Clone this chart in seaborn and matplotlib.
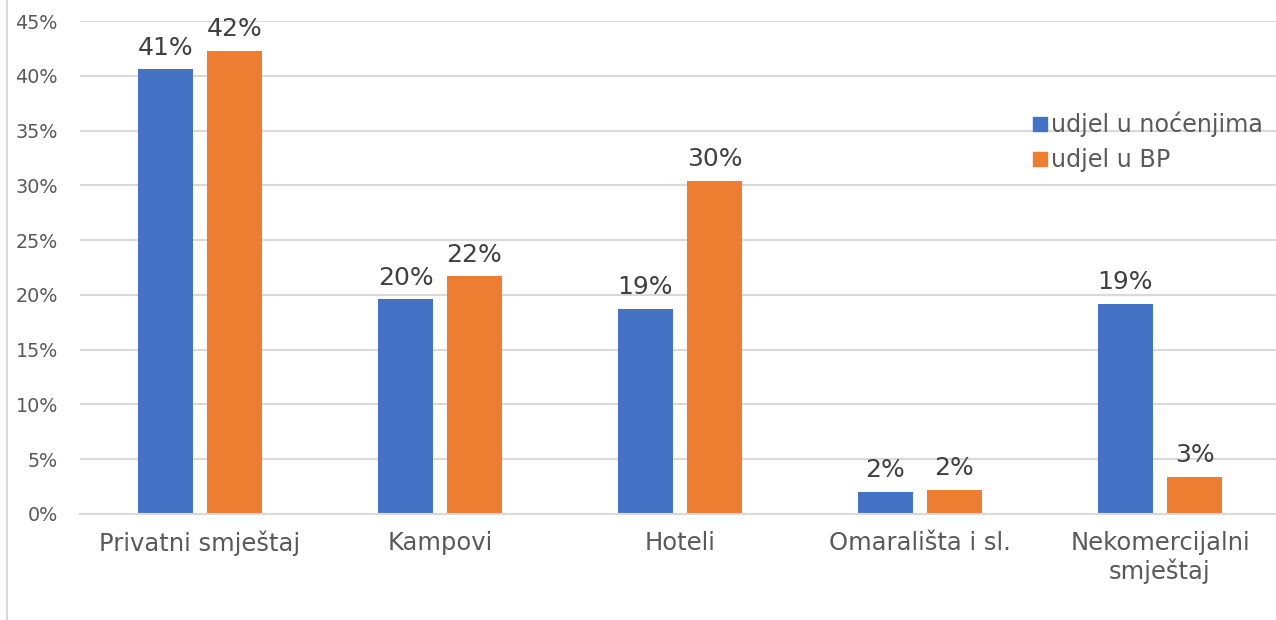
import pandas as pd
import matplotlib.pyplot as plt
import seaborn as sns
from matplotlib.lines import Line2D
from matplotlib.ticker import FuncFormatter


# Data (percent)
categories = ['Privatni smještaj', 'Kampovi', 'Hoteli', 'Omarališta i sl.', 'Nekomercijalni\nsmještaj']
nocenja = [40.6, 19.6, 18.7, 2.0, 19.2]
bp = [42.3, 21.7, 30.4, 2.2, 3.4]
series_names = ['udjel u noćenjima', 'udjel u BP']
y_ticks = [0, 5, 10, 15, 20, 25, 30, 35, 40, 45]

# Long format for seaborn
df = pd.DataFrame({
    'Kategorija': categories * 2,
    'Udjel': nocenja + bp,
    'Serija': [series_names[0]] * len(categories) + [series_names[1]] * len(categories),
})

sns.set_style('white')
plt.rcParams['font.family'] = ['DejaVu Sans']

fig = plt.figure(figsize=(12.76, 6.2), dpi=100)
ax = fig.add_axes([0.0627, 0.171, 0.9404, 0.795])

sns.barplot(data=df, x='Kategorija', y='Udjel', hue='Serija',
            palette=['#4472C4', '#ED7D31'], width=0.575, gap=0.21,
            saturation=1, ax=ax, legend=False, linewidth=0)

# Data labels
for cont in ax.containers:
    ax.bar_label(cont, fmt='{:.0f}%', padding=7, fontsize=18, color='#404040')

# Axes styling
ax.set_ylim(0, 45)
ax.set_xlim(-0.5, 4.5)
ax.set_yticks(y_ticks)
ax.yaxis.set_major_formatter(FuncFormatter(lambda v, p: f'{v:.0f}%'))
ax.grid(axis='y', color='#D9D9D9', linewidth=1.5)
ax.set_axisbelow(True)
for side in ['top', 'right', 'left']:
    ax.spines[side].set_visible(False)
ax.spines['bottom'].set_color('#D9D9D9')
ax.spines['bottom'].set_linewidth(1.5)
ax.tick_params(axis='y', length=0, pad=16, labelsize=13.8, labelcolor='#595959')
ax.tick_params(axis='x', length=0, pad=12, labelsize=17.5, labelcolor='#595959')
ax.set_xlabel('')
ax.set_ylabel('')

# Legend with small square markers
handles = [Line2D([], [], marker='s', linestyle='none', markersize=10, color=c)
           for c in ['#4472C4', '#ED7D31']]
fig.legend(handles, series_names, loc='center left', bbox_to_anchor=(0.802, 0.771),
           frameon=False, fontsize=17.2, labelcolor='#595959', handlelength=0.6,
           handletextpad=0.15, labelspacing=0.45, borderaxespad=0)

# Chart border on the left edge
fig.add_artist(Line2D([0.0055, 0.0055], [0, 1], transform=fig.transFigure,
                      color='#D9D9D9', linewidth=1.5))

plt.savefig('out.png', dpi=100)
